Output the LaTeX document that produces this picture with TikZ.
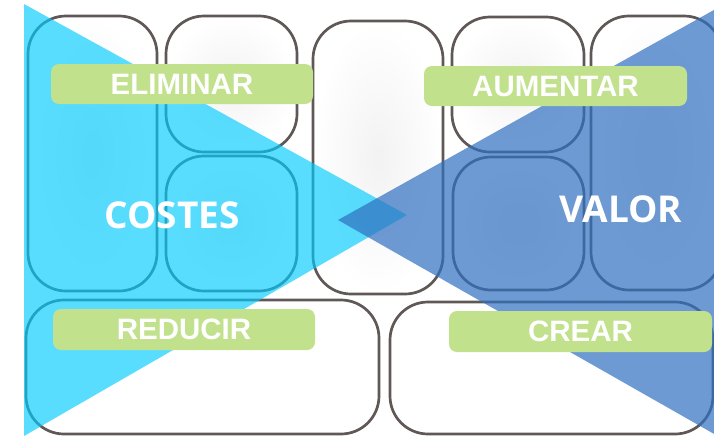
\documentclass[tikz,border=0pt]{standalone}
\usepackage{fontspec}
\setmainfont{Liberation Sans}
\newfontfamily\bigfont{Open Sans}
\definecolor{cyanT}{RGB}{0,204,255}
\definecolor{blueT}{RGB}{48,112,192}
\definecolor{outl}{RGB}{95,88,86}
\definecolor{lab}{RGB}{193,225,141}
\begin{document}
\begin{tikzpicture}[x=1pt,y=-1pt,
  cbox/.style={draw=outl, line width=2.7pt, rounded corners=38pt, inner sep=0pt,
    shading=radial, inner color=black!5, outer color=white},
  flatbox/.style={draw=outl, line width=2.7pt, rounded corners=38pt, inner sep=0pt, fill=white},
  labbox/.style={fill=lab, rounded corners=8pt, inner sep=0pt, minimum height=40pt,
    minimum width=262pt, text=white, font=\bfseries\fontsize{29.5}{29.5}\selectfont},
  bigtext/.style={text=white, inner sep=0pt, font=\bigfont\bfseries\fontsize{37}{37}\selectfont}]
\clip (0,0) rectangle (714,440);
\fill[white] (0,0) rectangle (714,440);
% canvas boxes
\node[cbox, minimum width=129pt, minimum height=275pt] (kp) at (92.5,153.5) {};
\node[cbox, minimum width=131pt, minimum height=136pt] (ka) at (231.5,84) {};
\node[cbox, minimum width=131pt, minimum height=135pt] (kr) at (231.5,223.5) {};
\node[cbox, minimum width=130pt, minimum height=273pt] (vp) at (378,157.5) {};
\node[cbox, minimum width=132pt, minimum height=135pt] (cr) at (518,84.5) {};
\node[cbox, minimum width=131pt, minimum height=133pt] (ch) at (518.5,223.5) {};
\node[cbox, minimum width=131pt, minimum height=274pt] (cs) at (656.5,153) {};
\node[flatbox, minimum width=353pt, minimum height=134pt] (cost) at (202.5,367) {};
\node[flatbox, minimum width=323pt, minimum height=132pt] (rev) at (551.5,368) {};
% triangles
\fill[cyanT, opacity=0.65] (24,4) -- (24,436) -- (407,215) -- cycle;
\fill[blueT, opacity=0.7] (338,220) -- (730,1) -- (730,443) -- cycle;
% labels
\node[labbox] (elim) at (182,84) {ELIMINAR};
\node[labbox, minimum width=263pt] (aum) at (555.5,86) {AUMENTAR};
\node[labbox, minimum height=41pt] (red) at (184,329.5) {REDUCIR};
\node[labbox, minimum width=263pt, minimum height=41pt] (crear) at (580.5,331.5) {CREAR};
% big words
\node[bigtext] (costes) at (172,215.5) {COSTES};
\node[bigtext] (valor) at (621,209.5) {VALOR};
\end{tikzpicture}
\end{document}
